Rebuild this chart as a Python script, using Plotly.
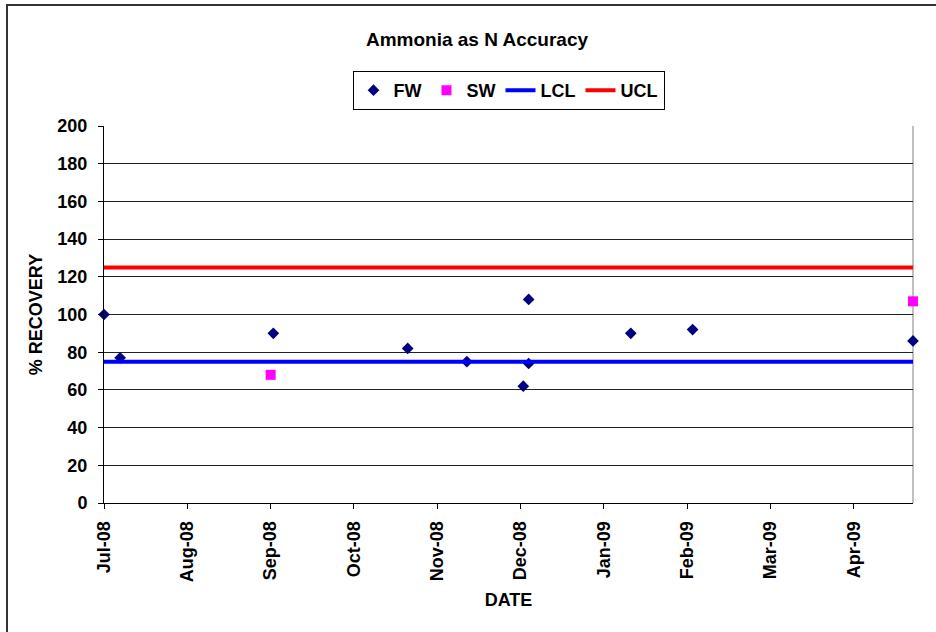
import plotly.graph_objects as go

# Freshwater (FW) spike recoveries
fw_dates = ["2008-07-01", "2008-07-07", "2008-09-02", "2008-10-22", "2008-11-13",
            "2008-12-04", "2008-12-06", "2008-12-06", "2009-01-13", "2009-02-05",
            "2009-04-28"]
fw_values = [100, 77, 90, 82, 75, 62, 108, 74, 90, 92, 86]

# Saltwater (SW) spike recoveries
sw_dates = ["2008-09-01", "2009-04-28"]
sw_values = [68, 107]

# Control limits
limit_dates = ["2008-07-01", "2009-04-28"]
lcl_values = [75, 75]
ucl_values = [125, 125]

# Axis ticks
y_ticks = [0, 20, 40, 60, 80, 100, 120, 140, 160, 180, 200]
x_ticks = ["2008-07-01", "2008-08-01", "2008-09-01", "2008-10-02", "2008-11-02",
           "2008-12-03", "2009-01-03", "2009-02-03", "2009-03-06", "2009-04-06"]

FONT = "Liberation Sans, Arial, sans-serif"

fig = go.Figure()
fig.add_trace(go.Scatter(
    x=fw_dates, y=fw_values, mode="markers", name="FW",
    marker=dict(symbol="diamond", size=9, color="#000080"),
    cliponaxis=False,
))
fig.add_trace(go.Scatter(
    x=sw_dates, y=sw_values, mode="markers", name="SW",
    marker=dict(symbol="square", size=10, color="#FF00FF"),
    cliponaxis=False,
))
fig.add_trace(go.Scatter(
    x=limit_dates, y=lcl_values, mode="lines", name="LCL",
    line=dict(color="#0000FF", width=4),
))
fig.add_trace(go.Scatter(
    x=limit_dates, y=ucl_values, mode="lines", name="UCL",
    line=dict(color="#FF0000", width=4),
))

fig.update_layout(
    width=936, height=632,
    margin=dict(l=104, r=23, t=126, b=129),
    paper_bgcolor="white", plot_bgcolor="white",
    font=dict(family=FONT, size=18, color="black", weight="bold"),
    title=dict(
        text="Ammonia as N Accuracy",
        x=477 / 936, xref="container", xanchor="center",
        y=1 - 39 / 632, yref="container", yanchor="middle",
        font=dict(family=FONT, size=19, color="black", weight="bold"),
    ),
    legend=dict(
        orientation="h",
        x=0.5, xanchor="center",
        y=1.146, yanchor="top",
        bordercolor="black", borderwidth=1,
        font=dict(family=FONT, size=18, color="black", weight="bold"),
        itemwidth=30,
        tracegroupgap=0,
    ),
    showlegend=True,
)

fig.update_xaxes(
    type="date",
    range=["2008-07-01", "2009-04-28"],
    tickmode="array", tickvals=x_ticks, tickformat="%b-%y",
    tickangle=-90,
    ticks="outside", ticklen=5, tickcolor="black",
    ticklabelstandoff=5,
    showline=True, linecolor="black", linewidth=1,
    showgrid=False, zeroline=False,
    tickfont=dict(family=FONT, size=18, color="black", weight="bold"),
    title=dict(text="DATE", standoff=12,
               font=dict(family=FONT, size=18, color="black", weight="bold")),
)
fig.update_yaxes(
    range=[0, 200],
    tickmode="array", tickvals=y_ticks,
    ticks="outside", ticklen=5, tickcolor="black",
    ticklabelstandoff=7,
    showline=True, linecolor="black", linewidth=1,
    showgrid=True, gridcolor="#222222", gridwidth=1,
    zeroline=False,
    tickfont=dict(family=FONT, size=18, color="black", weight="bold"),
    title=dict(text="% RECOVERY", standoff=10,
               font=dict(family=FONT, size=18, color="black", weight="bold")),
)

# Gray right edge of the plot area and the dark outer chart frame
fig.add_shape(type="line", xref="paper", yref="paper", x0=1, x1=1, y0=0, y1=1,
              line=dict(color="#808080", width=1), layer="below")
fig.add_shape(type="rect", xref="paper", yref="paper",
              x0=(7 - 104) / 809, x1=1.2, y0=(503 - 5) / 377, y1=-0.5,
              line=dict(color="#333333", width=2), layer="below")

fig.write_html("out.html")
